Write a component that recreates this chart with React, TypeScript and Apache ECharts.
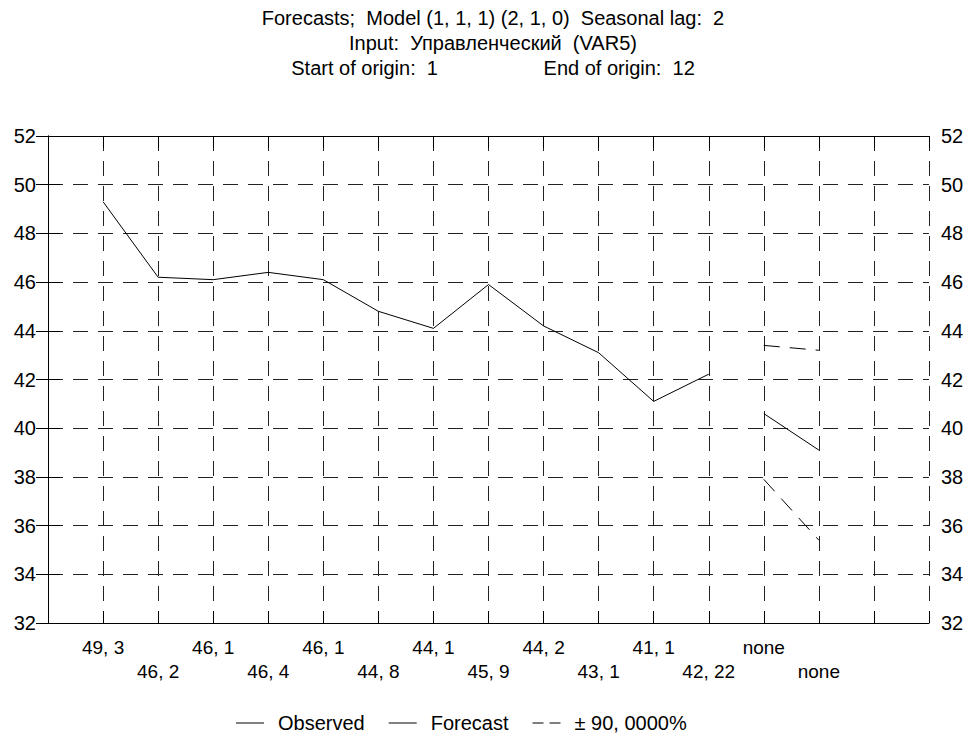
import React, { useEffect, useRef } from "react";
import * as echarts from "echarts";

const titleLines = [
  "Forecasts;  Model (1, 1, 1) (2, 1, 0)  Seasonal lag:  2",
  "Input:  Управленческий  (VAR5)",
  "Start of origin:  1                   End of origin:  12",
];
const xPositions = [1, 2, 3, 4, 5, 6, 7, 8, 9, 10, 11, 12, 13, 14];
const xLabels = [
  "49, 3", "46, 2", "46, 1", "46, 4", "46, 1", "44, 8", "44, 1",
  "45, 9", "44, 2", "43, 1", "41, 1", "42, 22", "none", "none",
];
const observed = [49.3, 46.2, 46.1, 46.4, 46.1, 44.8, 44.1, 45.9, 44.2, 43.1, 41.1, 42.22];
const forecastX = [13, 14];
const forecast = [40.6, 39.1];
const upper = [43.4, 43.2];
const lower = [37.9, 35.4];
const legendNames = ["Observed", "Forecast", "± 90, 0000%"];

const FONT = "'Liberation Sans', Arial, sans-serif";
const SOLID_ICON = "path://M0 0H28V1H0Z";
const DASH_ICON = "path://M0 0H11V1H0Z M17 0H28V1H17Z";

export default function App() {
  const ref = useRef<HTMLDivElement>(null);
  useEffect(() => {
    const chart = echarts.init(ref.current!, null, { renderer: "svg" });
    const obsData = observed.map((v, i) => [xPositions[i], v]);
    const fcData = forecast.map((v, i) => [forecastX[i], v]);
    const upData = upper.map((v, i) => [forecastX[i], v]);
    const loData = lower.map((v, i) => [forecastX[i], v]);
    const dashed = { type: [15, 10] as any, color: "#222", width: 1 };
    chart.setOption({
      animation: false,
      backgroundColor: "#fff",
      title: {
        text: titleLines.join("\n"),
        left: 488,
        textAlign: "center",
        top: 0,
        textStyle: {
          fontFamily: FONT,
          fontSize: 20,
          fontWeight: "normal",
          color: "#000",
          lineHeight: 25,
        },
      },
      legend: {
        data: [
          { name: legendNames[0], icon: SOLID_ICON },
          { name: legendNames[1], icon: SOLID_ICON },
          { name: legendNames[2], icon: DASH_ICON },
        ],
        left: 236,
        top: 712,
        height: 22,
        itemWidth: 28,
        itemHeight: 1,
        itemGap: 24,
        padding: 0,
        itemStyle: { color: "#000", borderWidth: 0 },
        textStyle: {
          fontFamily: FONT,
          fontSize: 20,
          color: "#000",
          lineHeight: 22,
          padding: [0, 0, 0, 9],
        },
      },
      grid: { left: 48, right: 42, top: 136, bottom: 113, containLabel: false },
      xAxis: [
        {
          type: "value",
          min: 0,
          max: 16,
          interval: 1,
          position: "bottom",
          axisLine: { show: true, lineStyle: { color: "#000", width: 1 } },
          axisTick: { show: true, inside: true, length: 12, lineStyle: { color: "#000" } },
          axisLabel: {
            show: true,
            margin: 13,
            fontFamily: FONT,
            fontSize: 19,
            color: "#000",
            lineHeight: 23.5,
            verticalAlign: "top",
            formatter: (v: number) => {
              const idx = xPositions.indexOf(v);
              if (idx < 0) return "";
              return idx % 2 === 0 ? xLabels[idx] : "\n" + xLabels[idx];
            },
          },
          splitLine: { show: true, lineStyle: dashed },
        },
        {
          type: "value",
          min: 0,
          max: 16,
          interval: 1,
          position: "top",
          axisLine: { show: true, lineStyle: { color: "#000", width: 1 } },
          axisTick: { show: true, inside: true, length: 12, lineStyle: { color: "#000" } },
          axisLabel: { show: false },
          splitLine: { show: false },
        },
      ],
      yAxis: [
        {
          type: "value",
          min: 32,
          max: 52,
          interval: 2,
          position: "left",
          axisLine: { show: true, lineStyle: { color: "#000", width: 1 } },
          axisTick: { show: true, inside: true, length: 12, lineStyle: { color: "#000" } },
          axisLabel: { margin: 12, fontFamily: FONT, fontSize: 20, color: "#000" },
          splitLine: { show: true, lineStyle: dashed },
        },
        {
          type: "value",
          min: 32,
          max: 52,
          interval: 2,
          position: "right",
          axisLine: { show: true, lineStyle: { color: "#000", width: 1 } },
          axisTick: { show: true, inside: true, length: 12, lineStyle: { color: "#000" } },
          axisLabel: { margin: 12, fontFamily: FONT, fontSize: 20, color: "#000" },
          splitLine: { show: false },
        },
      ],
      series: [
        {
          name: "Observed",
          type: "line",
          data: obsData,
          symbol: "none",
          lineStyle: { color: "#000", width: 1 },
          itemStyle: { color: "#000" },
        },
        {
          name: "Forecast",
          type: "line",
          data: fcData,
          symbol: "none",
          lineStyle: { color: "#000", width: 1 },
          itemStyle: { color: "#000" },
        },
        {
          name: "± 90, 0000%",
          type: "line",
          data: upData,
          symbol: "none",
          lineStyle: { color: "#000", width: 1, type: [16, 10] },
          itemStyle: { color: "#000" },
        },
        {
          name: "± 90, 0000%",
          type: "line",
          data: loData,
          symbol: "none",
          lineStyle: { color: "#000", width: 1, type: [16, 10] },
          itemStyle: { color: "#000" },
        },
      ],
    });
    return () => chart.dispose();
  }, []);
  return (
    <div
      ref={ref}
      style={{ position: "fixed", left: 0, top: 0, width: 971, height: 736, background: "#fff" }}
    />
  );
}
